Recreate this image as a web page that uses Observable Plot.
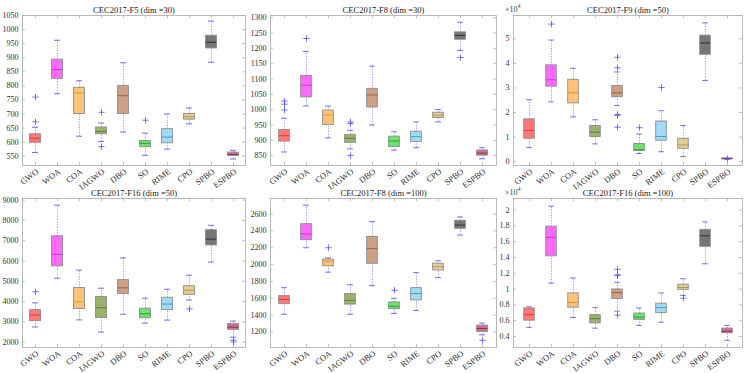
<!DOCTYPE html>
<html>
<head>
<meta charset="utf-8">
<script src="https://cdn.jsdelivr.net/npm/d3@7"></script>
<script src="https://cdn.jsdelivr.net/npm/@observablehq/plot@0.6"></script>
<style>
  body { margin: 0; background: #fff; }
  #wrap { position: relative; width: 749px; height: 373px; overflow: hidden; background: #fff;
          font-family: "Liberation Serif", "Times New Roman", serif; }
  .panel { position: absolute; }
  .exp { position: absolute; font-size: 8px; color: #444; line-height: 1; }
  .exp sup { font-size: 6px; }
</style>
</head>
<body>
<div id="wrap"></div>
<script>
// Algorithms compared in every panel, with box fill and median colours
const algorithms = ["GWO", "WOA", "COA", "IAGWO", "DBO", "SO", "RIME", "CPO", "SPBO", "ESPBO"];
const boxFills   = ["#ff6b6b", "#ff5cff", "#ffbe6e", "#8fae62", "#c9977b", "#62e062", "#9ad8f4", "#e2ca8c", "#6a6a6a", "#c86488"];
const medianInk  = ["#d83c3c", "#c838c8", "#e0923a", "#5e7e38", "#93644a", "#2e9e2e", "#4a9cc4", "#b09458", "#2e2e48", "#8e2e58"];

// Each row: [lower whisker, Q1, median, Q3, upper whisker]
const f5d30 = [
  [563, 598, 614, 628, 653], [772, 825, 858, 893, 962], [621, 700, 775, 793, 818],
  [602, 628, 638, 652, 668], [636, 700, 765, 800, 882], [553, 582, 596, 604, 632],
  [575, 596, 618, 646, 700], [665, 680, 690, 700, 721], [884, 933, 955, 978, 1030],
  [540, 551, 556, 563, 571]
];
const f5d30Outliers = [[672, 760], [], [], [584, 706], [], [678], [], [], [], []];

const f8d30 = [
  [862, 896, 915, 934, 972], [1012, 1040, 1080, 1110, 1190], [908, 950, 983, 997, 1012],
  [872, 892, 907, 918, 933], [950, 1007, 1048, 1068, 1142], [868, 878, 898, 912, 928],
  [876, 895, 912, 928, 960], [960, 973, 982, 990, 1000], [1193, 1228, 1242, 1252, 1285],
  [840, 850, 858, 867, 876]
];
const f8d30Outliers = [[999, 1018, 1028], [1232], [], [851, 955, 960], [], [], [], [], [1170], []];

const f9d50 = [
  [5700, 9300, 12700, 17200, 25200], [24300, 30500, 33300, 39200, 49500], [18200, 23700, 28000, 33300, 38000],
  [7200, 10000, 12000, 14500, 17000], [22800, 26200, 28000, 30800, 36500], [3300, 4300, 4800, 7200, 11200],
  [4000, 8500, 10200, 16300, 20700], [2000, 5200, 6800, 9300, 14700], [33000, 43500, 48300, 51300, 56500],
  [900, 1000, 1150, 1300, 1400]
];
const f9d50Outliers = [[], [56000], [], [], [14000, 18800, 19200, 38200, 42500], [13800], [30200], [], [], [1200]];

const f16d50 = [
  [2750, 3040, 3340, 3580, 3940], [5150, 5740, 6330, 7220, 8750], [3100, 3640, 3990, 4670, 5550],
  [2500, 3190, 3700, 4230, 4660], [3380, 4380, 4680, 5060, 6150], [2940, 3180, 3400, 3650, 4170],
  [3090, 3590, 3880, 4190, 4610], [4080, 4330, 4560, 4760, 5300], [5950, 6770, 7080, 7520, 7760],
  [2250, 2610, 2740, 2890, 3040]
];
const f16d50Outliers = [[4490], [], [], [], [], [], [], [3640], [], [2100, 2010]];

const f8d100 = [
  [1410, 1530, 1585, 1625, 1725], [2200, 2290, 2365, 2480, 2705], [1910, 1980, 2040, 2060, 2080],
  [1410, 1525, 1575, 1650, 1760], [1750, 2010, 2190, 2330, 2510], [1420, 1470, 1505, 1550, 1600],
  [1455, 1575, 1655, 1720, 1905], [1845, 1930, 1975, 2010, 2045], [2350, 2425, 2470, 2520, 2565],
  [1165, 1200, 1240, 1275, 1305]
];
const f8d100Outliers = [[], [], [2200], [], [], [1695], [], [], [], [1100]];

const f16d100 = [
  [5150, 6000, 6750, 7550, 7750], [10750, 14150, 16550, 17900, 20500], [6400, 7650, 8300, 9450, 11400],
  [5050, 5650, 6250, 6700, 7650], [7200, 8750, 9550, 9950, 10850], [5400, 6100, 6450, 6900, 7600],
  [5800, 6950, 7650, 8150, 9500], [9200, 9900, 10200, 10550, 11300], [13200, 15350, 16750, 17500, 18500],
  [3500, 4400, 4650, 5000, 5400]
];
const f16d100Outliers = [[], [], [], [], [6700, 11700, 11800, 12500], [], [], [8850], [], []];

// Y tick values of each panel
const ticksF5d30 = [550, 600, 650, 700, 750, 800, 850, 900, 950, 1000, 1050];
const ticksF8d30 = [850, 900, 950, 1000, 1050, 1100, 1150, 1200, 1250, 1300];
const ticksF9d50 = [0, 10000, 20000, 30000, 40000, 50000];
const ticksF16d50 = [2000, 3000, 4000, 5000, 6000, 7000, 8000, 9000];
const ticksF8d100 = [1200, 1400, 1600, 1800, 2000, 2200, 2400, 2600];
const ticksF16d100 = [4000, 6000, 8000, 10000, 12000, 14000, 16000, 18000, 20000];

const serif = '"Liberation Serif", "Times New Roman", serif';
const wrap = document.getElementById("wrap");

function drawPanel(p) {
  const mL = 30, mR = 6, mT = 16, mB = 34;
  const w = p.right - p.left, h = p.bottom - p.top;
  const bw = w / algorithms.length;
  const rows = algorithms.map((alg, i) => {
    const [lo, q1, med, q3, hi] = p.stats[i];
    return {alg, lo, q1, med, q3, hi, fill: boxFills[i], ink: medianInk[i]};
  });
  const outs = algorithms.flatMap((alg, i) => p.outliers[i].map(v => ({alg, v})));
  const fmt = p.exp ? (d => d3.format("~g")(+(d / 1e4).toFixed(4))) : (d => String(d));
  const axisGrey = "#a8a8a8";

  const svg = Plot.plot({
    width: w + mL + mR,
    height: h + mT + mB,
    marginLeft: mL, marginRight: mR, marginTop: mT, marginBottom: mB,
    style: {background: "transparent", fontFamily: serif, fontSize: "8px", color: "#333", overflow: "visible"},
    x: {type: "band", domain: algorithms, padding: 0, label: null, axis: null},
    y: {domain: p.domain, label: null, axis: null},
    color: {type: "identity"},
    marks: [
      Plot.frame({stroke: axisGrey, strokeWidth: 0.8}),
      // inward ticks on all four sides
      Plot.tickY(p.ticks, {y: d => d, insetRight: w - 3, stroke: axisGrey, strokeWidth: 0.7}),
      Plot.tickY(p.ticks, {y: d => d, insetLeft: w - 3, stroke: axisGrey, strokeWidth: 0.7}),
      Plot.tickX(algorithms, {x: d => d, insetTop: h - 3, stroke: axisGrey, strokeWidth: 0.7}),
      Plot.tickX(algorithms, {x: d => d, insetBottom: h - 3, stroke: axisGrey, strokeWidth: 0.7}),
      // dotted whiskers
      Plot.ruleX(rows, {x: "alg", y1: "q3", y2: "hi", stroke: "#8282f0", strokeWidth: 0.8, strokeDasharray: "1.2,1.4"}),
      Plot.ruleX(rows, {x: "alg", y1: "lo", y2: "q1", stroke: "#8282f0", strokeWidth: 0.8, strokeDasharray: "1.2,1.4"}),
      // whisker caps
      Plot.tickY(rows, {x: "alg", y: "hi", stroke: "#5c5cf0", strokeWidth: 0.9, insetLeft: bw * 0.36, insetRight: bw * 0.36}),
      Plot.tickY(rows, {x: "alg", y: "lo", stroke: "#5c5cf0", strokeWidth: 0.9, insetLeft: bw * 0.36, insetRight: bw * 0.36}),
      // boxes
      Plot.rectY(rows, {x: "alg", y1: "q1", y2: "q3", fill: "fill", fillOpacity: 0.92, stroke: "#8c8c8c", strokeWidth: 0.9,
                        insetLeft: bw * 0.25, insetRight: bw * 0.25}),
      // medians
      Plot.tickY(rows, {x: "alg", y: "med", stroke: "ink", strokeWidth: 1, insetLeft: bw * 0.25, insetRight: bw * 0.25}),
      // outliers
      Plot.dot(outs, {x: "alg", y: "v", symbol: "plus", r: 2.2, stroke: "#5050ea", strokeWidth: 0.8}),
      // y tick labels
      Plot.axisY(p.ticks, {tickSize: 0, tickPadding: 4, tickFormat: fmt, fontSize: 8, fill: "#333"}),
      // slanted category labels under each tick
      Plot.text(algorithms, {x: d => d, text: d => d, frameAnchor: "bottom", rotate: -37, textAnchor: "end",
                             lineAnchor: "middle", dx: 2, dy: 5, fontSize: 8.5, fill: "#333"}),
      Plot.text([p.title], {frameAnchor: "top", text: d => d, dy: -3, lineAnchor: "bottom", fontSize: 8.5, fill: "#222"})
    ]
  });

  const holder = document.createElement("div");
  holder.className = "panel";
  holder.style.left = (p.left - mL) + "px";
  holder.style.top = (p.top - mT) + "px";
  holder.appendChild(svg);
  wrap.appendChild(holder);

  if (p.exp) {
    const e = document.createElement("div");
    e.className = "exp";
    e.innerHTML = "×10<sup>4</sup>";
    e.style.left = (p.left - 8) + "px";
    e.style.top = (p.top - 12) + "px";
    wrap.appendChild(e);
  }
}

const panels = [
  {title: "CEC2017-F5 (dim =30)",   stats: f5d30,   outliers: f5d30Outliers,   ticks: ticksF5d30,   domain: [517, 1050],    left: 22,  right: 245, top: 15,  bottom: 165},
  {title: "CEC2017-F8 (dim =30)",   stats: f8d30,   outliers: f8d30Outliers,   ticks: ticksF8d30,   domain: [818, 1307],    left: 270, right: 496, top: 15,  bottom: 165},
  {title: "CEC2017-F9 (dim =50)",   stats: f9d50,   outliers: f9d50Outliers,   ticks: ticksF9d50,   domain: [-1600, 59500], left: 513, right: 742, top: 15,  bottom: 165, exp: true},
  {title: "CEC2017-F16 (dim =50)",  stats: f16d50,  outliers: f16d50Outliers,  ticks: ticksF16d50,  domain: [1740, 9080],   left: 22,  right: 245, top: 198, bottom: 347},
  {title: "CEC2017-F8 (dim =100)",  stats: f8d100,  outliers: f8d100Outliers,  ticks: ticksF8d100,  domain: [1015, 2785],   left: 270, right: 496, top: 198, bottom: 347},
  {title: "CEC2017-F16 (dim =100)", stats: f16d100, outliers: f16d100Outliers, ticks: ticksF16d100, domain: [2600, 21470], left: 513, right: 742, top: 198, bottom: 347, exp: true}
];

panels.forEach(drawPanel);
</script>
</body>
</html>
